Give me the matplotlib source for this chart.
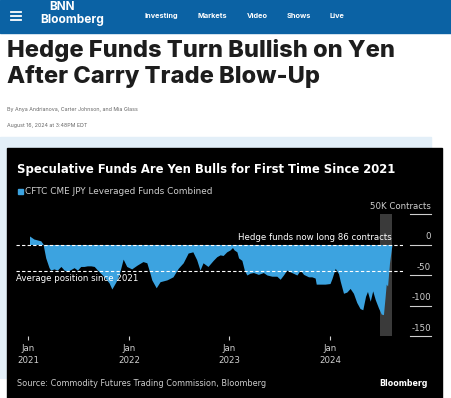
import numpy as np
import matplotlib
matplotlib.use("Agg")
import matplotlib.pyplot as plt
from matplotlib.patches import Rectangle

# CFTC CME JPY leveraged funds combined, thousand contracts
dates = [
    "2021-01-05", "2021-01-21", "2021-02-15", "2021-02-23", "2021-03-05",
    "2021-03-17", "2021-03-23", "2021-04-04", "2021-04-16", "2021-04-29",
    "2021-05-11", "2021-05-23", "2021-06-04", "2021-06-16", "2021-06-28",
    "2021-07-10", "2021-07-22", "2021-08-03", "2021-08-16", "2021-08-28",
    "2021-09-09", "2021-10-03", "2021-10-21", "2021-10-31", "2021-11-14",
    "2021-11-26", "2021-12-11", "2021-12-24", "2022-01-11", "2022-01-30",
    "2022-02-21", "2022-03-07", "2022-03-19", "2022-03-25", "2022-04-10",
    "2022-04-24", "2022-05-19", "2022-06-10", "2022-06-29", "2022-07-17",
    "2022-08-04", "2022-08-21", "2022-09-04", "2022-09-16", "2022-09-27",
    "2022-10-15", "2022-11-03", "2022-11-16", "2022-11-28", "2022-12-09",
    "2022-12-22", "2023-01-03", "2023-01-12", "2023-01-18", "2023-01-28",
    "2023-02-03", "2023-02-15", "2023-02-24", "2023-03-05", "2023-03-17",
    "2023-03-29", "2023-04-16", "2023-05-04", "2023-05-17", "2023-06-04",
    "2023-06-22", "2023-07-04", "2023-07-16", "2023-07-28", "2023-08-15",
    "2023-09-03", "2023-09-15", "2023-09-27", "2023-10-15", "2023-10-27",
    "2023-11-08", "2023-11-12", "2023-11-26", "2023-12-14", "2024-01-01",
    "2024-01-08", "2024-01-20", "2024-02-01", "2024-02-07", "2024-02-19",
    "2024-03-02", "2024-03-14", "2024-03-26", "2024-04-07", "2024-04-19",
    "2024-04-29", "2024-05-09", "2024-05-16", "2024-05-26", "2024-06-04",
    "2024-06-13", "2024-06-25", "2024-07-05", "2024-07-13", "2024-07-19",
    "2024-07-23", "2024-07-28", "2024-08-04", "2024-08-13",
]
values = [
    14, 9, 6, 1, -22,
    -38, -42, -40, -42, -36,
    -42, -44, -41, -38, -42,
    -36, -36, -35, -35, -36,
    -42, -53, -63, -73, -62,
    -50, -24, -36, -40, -34,
    -28, -30, -48, -58, -71,
    -61, -58, -53, -39, -30,
    -14, -12, -25, -42, -30,
    -36, -26, -20, -17, -18,
    -12, -9, -5, -9, -12,
    -22, -26, -42, -50, -47,
    -46, -49, -46, -50, -52,
    -52, -57, -50, -42, -46,
    -50, -42, -49, -53, -53,
    -55, -65, -65, -65, -64,
    -56, -39, -48, -60, -80,
    -78, -72, -80, -95, -105,
    -107, -85, -77, -93, -76,
    -90, -104, -114, -115, -86,
    -65, -68, -30, 0.086,
]
avg_position = -44
y_ticks = [50, 0, -50, -100, -150]
y_labels = ["50K Contracts", "0", "-50", "-100", "-150"]
x_ticks = ["2021-01-01", "2022-01-01", "2023-01-01", "2024-01-01"]
x_labels = ["Jan\n2021", "Jan\n2022", "Jan\n2023", "Jan\n2024"]
shade = ("2024-07-01", "2024-08-14")

W, H = 452, 398
BLUE = "#3ca3e0"
GREY = "#cfcfcf"


def fx(px):
    return px / W


def fy(py):
    return 1 - py / H


fig = plt.figure(figsize=(W / 100, H / 100), dpi=100)
fig.patch.set_facecolor("white")

# page furniture
fig.add_artist(Rectangle((0, fy(33)), 1, 33 / H, transform=fig.transFigure,
                         color="#0b62a4", zorder=-3))
for yy in (12, 16, 20):
    fig.add_artist(plt.Line2D([fx(11), fx(21)], [fy(yy), fy(yy)], color="white",
                              lw=1.3, transform=fig.transFigure))
fig.text(fx(62), fy(7.5), "BNN", color="white", fontsize=8.5, weight="bold",
         family="Inter", ha="center", va="center")
fig.text(fx(72), fy(20.5), "Bloomberg", color="white", fontsize=8.6, weight="bold",
         family="Inter", ha="center", va="center")
for label, px in [("Investing", 145), ("Markets", 198), ("Video", 247),
                  ("Shows", 287), ("Live", 330)]:
    fig.text(fx(px), fy(16), label, color="white", fontsize=5.3, weight="bold",
             family="Inter", ha="left", va="center")

fig.text(fx(7), fy(57), "Hedge Funds Turn Bullish on Yen", fontsize=17.0,
         weight="heavy", family="Inter", color="#1d1d1d", ha="left", va="baseline")
fig.text(fx(7), fy(83), "After Carry Trade Blow-Up", fontsize=17.0,
         weight="heavy", family="Inter", color="#1d1d1d", ha="left", va="baseline")
fig.text(fx(7), fy(109), "By Anya Andrianova, Carter Johnson, and Mia Glass",
         fontsize=3.8, color="#666666", family="Inter", ha="left", va="center")
fig.text(fx(7), fy(125.5), "August 16, 2024 at 3:48PM EDT",
         fontsize=3.8, color="#666666", family="Inter", ha="left", va="center")

fig.add_artist(Rectangle((0, fy(378)), fx(431), (378 - 137) / H,
                         transform=fig.transFigure, color="#e3eff8", zorder=-3))
fig.add_artist(Rectangle((fx(7), 0), fx(442 - 7), (398 - 148) / H,
                         transform=fig.transFigure, color="black", zorder=-2))

# chart text
fig.text(fx(17), fy(170), "Speculative Funds Are Yen Bulls for First Time Since 2021",
         color="white", fontsize=8.4, weight="bold", ha="left", va="center")
fig.add_artist(Rectangle((fx(18), fy(194)), fx(5.5), 5.5 / H,
                         transform=fig.transFigure, color=BLUE))
fig.text(fx(25.5), fy(191), "CFTC CME JPY Leveraged Funds Combined", color=GREY,
         fontsize=6.4, ha="left", va="center")
fig.text(fx(17), fy(384), "Source: Commodity Futures Trading Commission, Bloomberg",
         color=GREY, fontsize=5.85, ha="left", va="center")
fig.text(fx(428), fy(383), "Bloomberg", color="white", fontsize=5.7,
         weight="bold", ha="right", va="center")

# chart
ax = fig.add_axes([fx(16), fy(336), fx(403 - 16), 122 / H])
ax.set_zorder(1)
ax.patch.set_alpha(0)
d = np.array(dates, dtype="datetime64[D]")
ax.axvspan(np.datetime64(shade[0]), np.datetime64(shade[1]), color="#3a3a3a",
           lw=0, zorder=0)
ax.fill_between(d, values, 0, color=BLUE, lw=0, zorder=1)
ax.axhline(0, color="white", lw=0.8, ls=(0, (3, 2)), zorder=2)
ax.axhline(avg_position, color="white", lw=0.8, ls=(0, (3, 2)), zorder=2)
ax.set_xlim(np.datetime64("2020-11-17"), np.datetime64("2024-09-22"))
ax.set_ylim(-150, 50)

ax.text(np.datetime64("2024-08-13"), 3.5, "Hedge funds now long 86 contracts",
        color="white", fontsize=6.2, ha="right", va="bottom")
ax.text(0, avg_position - 4, "Average position since 2021", color="white",
        fontsize=6.2, ha="left", va="top", transform=ax.get_yaxis_transform())

ytr = ax.get_yaxis_transform()
for v, lab in zip(y_ticks, y_labels):
    ax.plot([1.018, 1.072], [v, v], color=GREY, lw=0.8, transform=ytr, clip_on=False)
    ax.text(1.072, v + 5, lab, color=GREY, fontsize=6.2, ha="right", va="bottom",
            transform=ytr)

ax.set_xticks(np.array(x_ticks, dtype="datetime64[D]"))
ax.set_xticklabels(x_labels, color=GREY, fontsize=6.2, linespacing=1.45)
ax.tick_params(axis="x", length=3, width=0.8, color=GREY, pad=3)
ax.set_yticks([])
for s in ax.spines.values():
    s.set_visible(False)

fig.savefig("out.png", dpi=100, facecolor=fig.get_facecolor())
